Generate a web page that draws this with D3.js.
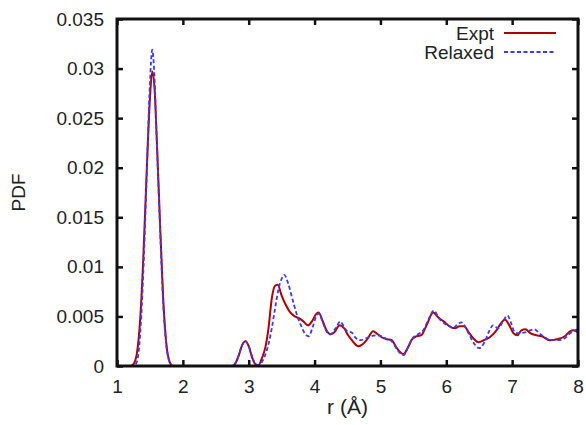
<html>
<head>
<script src="https://d3js.org/d3.v7.min.js"></script>
<style>
  body { margin: 0; background: #fff; }
  text { font-family: "Liberation Sans", Arial, sans-serif; fill: #222; }
</style>
</head>
<body>
<svg id="chart" width="586" height="425"></svg>
<script>
// ---- data ----
const rExpt = [1.0,1.2,1.25,1.3,1.35,1.4,1.45,1.5,1.535,1.57,1.6,1.65,1.7,1.75,1.8,1.85,
  2.75,2.8,2.85,2.9,2.95,3.0,3.05,3.1,3.15,3.2,3.25,3.3,3.35,3.4,3.44,3.5,3.56,3.63,3.7,3.77,3.83,3.9,3.96,
  4.02,4.06,4.12,4.18,4.24,4.3,4.38,4.45,4.51,4.58,4.66,4.73,4.8,4.89,4.96,5.02,5.1,5.17,5.25,5.35,5.42,5.47,
  5.55,5.62,5.7,5.8,5.88,5.96,6.05,6.13,6.2,6.27,6.34,6.41,6.49,6.57,6.66,6.75,6.83,6.89,6.95,7.02,7.08,7.14,
  7.2,7.28,7.37,7.45,7.57,7.68,7.8,7.88,7.93,8.0];
const gExpt = [0,0,0.0002,0.0012,0.0045,0.011,0.0195,0.027,0.0297,0.028,0.0235,0.015,0.007,0.0022,0.0004,0,
  0,0.0003,0.0011,0.0021,0.0025,0.002,0.0009,0.0002,0.0001,0.0008,0.0018,0.0038,0.0068,0.0081,0.0082,0.0071,0.0062,0.0054,0.005,0.0048,0.0045,0.0041,0.0045,
  0.0052,0.0054,0.0046,0.0036,0.0032,0.0034,0.0041,0.0038,0.0031,0.0025,0.002,0.0022,0.0027,0.0035,0.0032,0.0029,0.0027,0.0026,0.0018,0.0012,0.0019,0.0026,
  0.003,0.0031,0.0041,0.0054,0.0049,0.0045,0.004,0.0038,0.004,0.004,0.0034,0.0028,0.0024,0.0026,0.0029,0.0035,0.0043,0.0047,0.0042,0.0033,0.0031,0.0036,
  0.0037,0.0033,0.0031,0.003,0.0026,0.0027,0.003,0.0035,0.0036,0.0034];

const rRelaxed = [1.0,1.25,1.3,1.35,1.4,1.45,1.5,1.535,1.57,1.6,1.65,1.7,1.75,1.8,1.85,
  2.75,2.8,2.85,2.9,2.95,3.0,3.05,3.1,3.15,3.2,3.25,3.3,3.35,3.4,3.45,3.5,3.54,3.6,3.67,3.74,3.8,3.86,3.91,3.97,
  4.03,4.06,4.12,4.18,4.24,4.32,4.39,4.45,4.5,4.56,4.63,4.7,4.78,4.86,4.95,5.02,5.1,5.17,5.25,5.35,5.42,5.5,
  5.57,5.65,5.73,5.81,5.89,5.97,6.05,6.1,6.17,6.23,6.3,6.36,6.43,6.5,6.58,6.65,6.71,6.79,6.86,6.93,6.98,7.04,
  7.09,7.2,7.33,7.45,7.6,7.7,7.8,7.88,8.0];
const gRelaxed = [0,0,0.0004,0.003,0.0095,0.019,0.0285,0.0319,0.029,0.0235,0.0145,0.0065,0.002,0.0004,0,
  0,0.0003,0.0011,0.0021,0.0025,0.002,0.001,0.0002,0.0001,0.0004,0.0011,0.0022,0.0038,0.0058,0.0077,0.0088,0.0092,0.0083,0.0066,0.005,0.004,0.0032,0.003,0.0039,
  0.0051,0.0053,0.0045,0.0035,0.0032,0.0038,0.0045,0.0039,0.0035,0.0034,0.0028,0.0026,0.0028,0.003,0.0031,0.003,0.0027,0.0025,0.0017,0.0011,0.0019,0.0029,
  0.0032,0.0036,0.0047,0.0056,0.0048,0.0043,0.004,0.0038,0.0042,0.0044,0.0038,0.003,0.0022,0.0018,0.0024,0.0035,0.0041,0.0038,0.0045,0.0051,0.0044,0.0034,
  0.0033,0.0034,0.0037,0.0031,0.0026,0.0026,0.0028,0.0033,0.0037];

const xTicks = [1,2,3,4,5,6,7,8];
const xTickLabels = ["1","2","3","4","5","6","7","8"];
const yTicks = [0,0.005,0.01,0.015,0.02,0.025,0.03,0.035];
const yTickLabels = ["0","0.005","0.01","0.015","0.02","0.025","0.03","0.035"];
const seriesNames = ["Expt","Relaxed"];

// ---- layout ----
const svg = d3.select("#chart");
const plot = {left: 117, right: 578, top: 19, bottom: 366};

const x = d3.scaleLinear().domain([1, 8]).range([plot.left, plot.right]);
const y = d3.scaleLinear().domain([0, 0.035]).range([plot.bottom, plot.top]);

svg.append("defs").append("clipPath").attr("id", "clip")
   .append("rect")
   .attr("x", plot.left).attr("y", plot.top)
   .attr("width", plot.right - plot.left).attr("height", plot.bottom - plot.top);

const line = d3.line()
   .x(d => x(d[0]))
   .y(d => y(d[1]))
   .curve(d3.curveMonotoneX);

const expt = rExpt.map((r, i) => [r, gExpt[i]]);
const relaxed = rRelaxed.map((r, i) => [r, gRelaxed[i]]);

const lines = svg.append("g").attr("clip-path", "url(#clip)");
lines.append("path").datum(expt)
   .attr("d", line)
   .attr("fill", "none").attr("stroke", "#b00000").attr("stroke-width", 2);
lines.append("path").datum(relaxed)
   .attr("d", line)
   .attr("fill", "none").attr("stroke", "#3a3aff").attr("stroke-width", 1.8)
   .attr("stroke-dasharray", "4,2.5");

// ---- axes (gnuplot style: ticks inside, mirrored) ----
const tickLen = 6;
const axes = svg.append("g");

axes.append("g").attr("transform", `translate(0,${plot.bottom})`)
   .call(d3.axisBottom(x).tickValues(xTicks).tickSizeInner(-tickLen).tickSizeOuter(0).tickPadding(14)
      .tickFormat((d, i) => xTickLabels[i]))
   .call(g => g.select(".domain").remove());
axes.append("g").attr("transform", `translate(0,${plot.top})`)
   .call(d3.axisTop(x).tickValues(xTicks).tickSizeInner(-tickLen).tickSizeOuter(0).tickFormat(""))
   .call(g => g.select(".domain").remove());
axes.append("g").attr("transform", `translate(${plot.left},0)`)
   .call(d3.axisLeft(y).tickValues(yTicks).tickSizeInner(-tickLen).tickSizeOuter(0).tickPadding(13)
      .tickFormat((d, i) => yTickLabels[i]))
   .call(g => g.select(".domain").remove());
axes.append("g").attr("transform", `translate(${plot.right},0)`)
   .call(d3.axisRight(y).tickValues(yTicks).tickSizeInner(-tickLen).tickSizeOuter(0).tickFormat(""))
   .call(g => g.select(".domain").remove());

axes.selectAll(".tick line").attr("stroke", "#111").attr("stroke-width", 2.5);
axes.selectAll(".tick text").attr("font-size", 19).attr("fill", "#222")
   .attr("font-family", "Liberation Sans, Arial, sans-serif");

svg.append("rect")
   .attr("x", plot.left).attr("y", plot.top)
   .attr("width", plot.right - plot.left).attr("height", plot.bottom - plot.top)
   .attr("fill", "none").attr("stroke", "#111").attr("stroke-width", 3);

// axis titles
svg.append("text")
   .attr("x", (plot.left + plot.right) / 2).attr("y", 414)
   .attr("text-anchor", "middle").attr("font-size", 21)
   .text("r (Å)");
svg.append("text")
   .attr("transform", `translate(25,${(plot.top + plot.bottom) / 2}) rotate(-90)`)
   .attr("text-anchor", "middle").attr("font-size", 19)
   .text("PDF");

// legend
const legend = svg.append("g");
const legendStyle = [
  {color: "#b00000", dash: null, w: 2},
  {color: "#3a3aff", dash: "4,2.5", w: 1.8}
];
seriesNames.forEach((name, i) => {
  const ly = 33 + i * 19;
  legend.append("text")
     .attr("x", 494).attr("y", ly + 7)
     .attr("text-anchor", "end").attr("font-size", 19)
     .text(name);
  legend.append("line")
     .attr("x1", 504).attr("x2", 556).attr("y1", ly).attr("y2", ly)
     .attr("stroke", legendStyle[i].color).attr("stroke-width", legendStyle[i].w)
     .attr("stroke-dasharray", legendStyle[i].dash);
});
</script>
</body>
</html>
